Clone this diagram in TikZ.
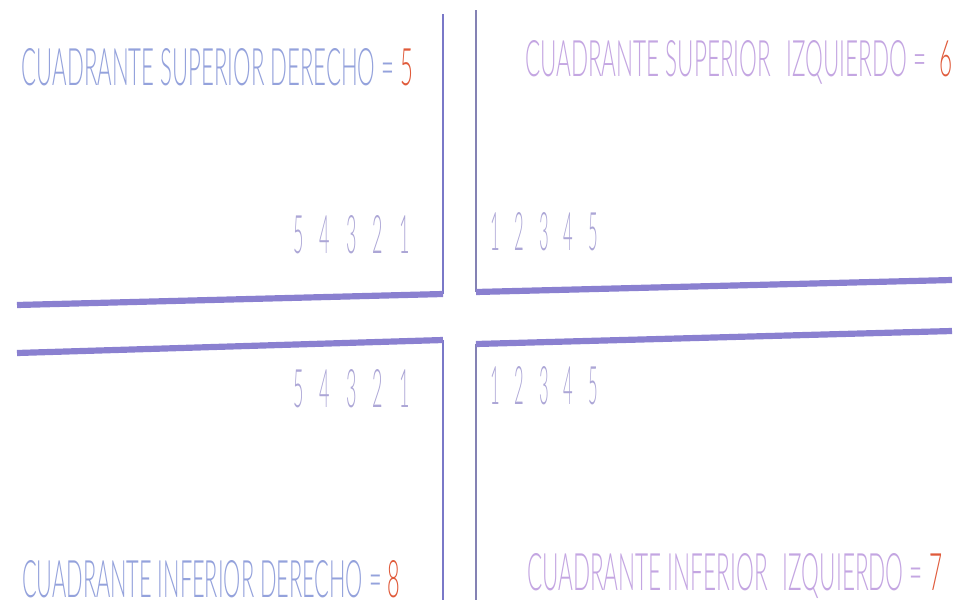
\documentclass[tikz,border=0pt]{standalone}
\usepackage{fontspec}
\usepackage{graphicx}
\setmainfont{Lato Light}
\definecolor{txtblue}{HTML}{94A2DC}
\definecolor{txtpink}{HTML}{C4A6E2}
\definecolor{numcol}{HTML}{ACA6D6}
\definecolor{redd}{HTML}{E05A3A}
\definecolor{vline}{HTML}{7A78C8}
\definecolor{vline2}{HTML}{8482B4}
\definecolor{hline}{HTML}{8A80D0}
\newcommand\fitt[3]{\resizebox{#1}{#2}{#3}}
\newcommand\dg{\hspace{0.9em}}
\begin{document}
\begin{tikzpicture}[x=0.025cm,y=-0.025cm,
  lbl/.style={anchor=base west,inner sep=0pt,outer sep=0pt},
  vrule/.style={draw=vline,line width=1.4pt},
  hrule/.style={draw=hline,line width=4.4pt}]
\useasboundingbox[fill=white] (0,0) rectangle (962,606);
% line end points
\coordinate (vlt) at (443,14);
\coordinate (vlm) at (443,294);
\coordinate (vlb) at (443,600);
\coordinate (vln) at (443,340);
\coordinate (vrt) at (476,10);
\coordinate (vrm) at (476,292);
\coordinate (vrn) at (476,344);
\coordinate (vrb) at (476,600);
\coordinate (htl) at (17,305);
\coordinate (hbl) at (17,353);
\coordinate (htr) at (952,280);
\coordinate (hbr) at (952,331);
% vertical lines
\draw[vrule] (vlt) -- (vlm);
\draw[vrule,draw=vline2] (vrt) -- (vrm);
\draw[vrule] (vln) -- (vlb);
\draw[vrule,draw=vline2] (vrn) -- (vrb);
% horizontal lines
\draw[hrule] (htl) -- (vlm);
\draw[hrule] (vrm) -- (htr);
\draw[hrule] (hbl) -- (vln);
\draw[hrule] (vrn) -- (hbr);
% titles
\node[lbl,text=txtblue] (tl) at (22,85) {\fitt{9.775cm}{0.925cm}{CUADRANTE SUPERIOR DERECHO = {\color{redd}5}}};
\node[lbl,text=txtpink] (tr) at (525,76) {\fitt{10.675cm}{0.9cm}{CUADRANTE SUPERIOR\hspace{0.4em} IZQUIERDO = \hspace{0.3em}{\color{redd}6}}};
\node[lbl,text=txtblue] (bl) at (22,597) {\fitt{9.45cm}{0.925cm}{CUADRANTE INFERIOR DERECHO = {\color{redd}8}}};
\node[lbl,text=txtpink] (br) at (527,590) {\fitt{10.375cm}{0.925cm}{CUADRANTE INFERIOR\hspace{0.4em} IZQUIERDO = {\color{redd}7}}};
% numbers
\node[lbl,text=numcol] (ntl) at (293,253) {\fitt{2.925cm}{0.95cm}{5\dg 4\dg 3\dg 2\dg 1}};
\node[lbl,text=numcol] (ntr) at (490,250) {\fitt{2.7cm}{0.95cm}{1\dg 2\dg 3\dg 4\dg 5}};
\node[lbl,text=numcol] (nbl) at (293,407) {\fitt{2.925cm}{0.95cm}{5\dg 4\dg 3\dg 2\dg 1}};
\node[lbl,text=numcol] (nbr) at (490,404) {\fitt{2.7cm}{0.95cm}{1\dg 2\dg 3\dg 4\dg 5}};
\end{tikzpicture}
\end{document}
